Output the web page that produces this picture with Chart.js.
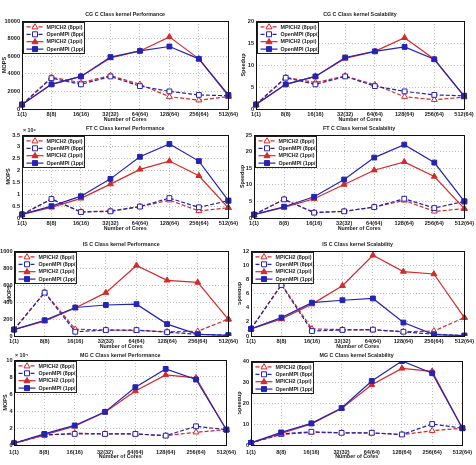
<!DOCTYPE html>
<html>
<head>
<meta charset="utf-8">
<script src="https://cdn.jsdelivr.net/npm/chart.js@4"></script>
<style>
  html, body { margin: 0; padding: 0; background: #fff; }
  #wrap { position: relative; width: 476px; height: 465px; overflow: hidden; }
  #wrap canvas { position: absolute; }
</style>
</head>
<body>
<div id="wrap"></div>
<script>
// NPB class C runs: MPICH2 vs OpenMPI, 8 ppi and 1 ppi
const cores = ["1(1)", "8(8)", "16(16)", "32(32)", "64(64)", "128(64)", "256(64)", "512(64)"];
const seriesNames = ["MPICH2 (8ppi)", "OpenMPI (8ppi)", "MPICH2 (1ppi)", "OpenMPI (1ppi)"];

// CG
const cgPerfMpich8 = [500, 3600, 3000, 3800, 2800, 1400, 1000, 1400];
const cgPerfOmpi8  = [500, 3500, 2800, 3700, 2600, 2000, 1600, 1500];
const cgPerfMpich1 = [500, 2800, 3700, 5800, 6600, 8200, 5700, 1500];
const cgPerfOmpi1  = [500, 2800, 3700, 5900, 6600, 7100, 5700, 1600];
const cgScalMpich8 = [1, 7.2, 6.0, 7.5, 5.5, 2.8, 2.1, 2.7];
const cgScalOmpi8  = [1, 7.1, 5.6, 7.4, 5.2, 4.0, 3.2, 3.0];
const cgScalMpich1 = [1, 5.6, 7.4, 11.5, 13.1, 16.2, 11.3, 2.9];
const cgScalOmpi1  = [1, 5.6, 7.4, 11.7, 13.1, 14.1, 11.3, 3.0];

// FT (perf in x10^6 MOPS)
const ftPerfMpich8 = [0.15, 0.8, 0.26, 0.3, 0.48, 0.75, 0.3, 0.43];
const ftPerfOmpi8  = [0.15, 0.8, 0.25, 0.28, 0.48, 0.84, 0.45, 0.73];
const ftPerfMpich1 = [0.15, 0.45, 0.83, 1.43, 2.05, 2.4, 1.78, 0.43];
const ftPerfOmpi1  = [0.15, 0.5, 0.92, 1.65, 2.58, 3.12, 2.4, 0.73];
const ftScalMpich8 = [1, 5.6, 1.7, 2.0, 3.3, 5.3, 2.0, 2.8];
const ftScalOmpi8  = [1, 5.6, 1.6, 2.0, 3.3, 5.8, 3.0, 5.0];
const ftScalMpich1 = [1, 3.2, 5.8, 10.1, 14.4, 16.9, 12.5, 2.8];
const ftScalOmpi1  = [1, 3.4, 6.4, 11.6, 18.2, 22.1, 16.7, 5.0];

// IS
const isPerfMpich8 = [75, 515, 80, 70, 65, 50, 55, 200];
const isPerfOmpi8  = [75, 510, 50, 70, 70, 45, 20, 10];
const isPerfMpich1 = [75, 175, 330, 510, 830, 655, 630, 195];
const isPerfOmpi1  = [75, 185, 335, 365, 375, 140, 20, 8];
const isScalMpich8 = [1, 7.3, 1.0, 0.9, 0.85, 0.6, 0.7, 2.6];
const isScalOmpi8  = [1, 7.2, 0.7, 0.85, 0.9, 0.6, 0.25, 0.05];
const isScalMpich1 = [1, 2.4, 4.5, 7.1, 11.4, 9.1, 8.75, 2.6];
const isScalOmpi1  = [1, 2.6, 4.7, 5.05, 5.3, 1.9, 0.2, 0.05];

// MG (perf in x10^4 MOPS)
const mgPerfMpich8 = [0.2, 1.15, 1.4, 1.3, 1.3, 1.1, 1.5, 1.8];
const mgPerfOmpi8  = [0.2, 1.2, 1.3, 1.3, 1.3, 1.1, 2.2, 1.8];
const mgPerfMpich1 = [0.2, 1.2, 2.2, 3.85, 6.35, 8.25, 7.9, 1.8];
const mgPerfOmpi1  = [0.2, 1.3, 2.3, 3.9, 6.8, 8.95, 7.7, 1.8];
const mgScalMpich8 = [1, 5, 6, 5.8, 5.7, 5.0, 6.8, 8];
const mgScalOmpi8  = [1, 5.3, 6.3, 5.8, 5.8, 5.0, 10, 8];
const mgScalMpich1 = [1, 5.5, 10, 17.4, 28.7, 36.5, 35.1, 8];
const mgScalOmpi1  = [1, 6, 10.3, 17.6, 30.5, 40, 34.2, 8];

const RED = "#d42a2a", BLUE = "#2424b4";
const FONT = '"Liberation Sans", Arial, sans-serif';
const TXT = "#222";

// line style per series (same order as seriesNames)
const styles = [
  { color: RED,  dash: [4, 2], marker: "triangle", filled: false },
  { color: BLUE, dash: [4, 2], marker: "rect",     filled: false },
  { color: RED,  dash: [],     marker: "triangle", filled: true },
  { color: BLUE, dash: [],     marker: "rect",     filled: true }
];

function drawMarker(ctx, kind, x, y, st) {
  ctx.beginPath();
  if (kind === "rect") ctx.rect(x - 2.5, y - 2.5, 5, 5);
  else { ctx.moveTo(x, y - 3.2); ctx.lineTo(x + 3, y + 2); ctx.lineTo(x - 3, y + 2); ctx.closePath(); }
  ctx.fillStyle = st.filled ? st.color : "#fff";
  ctx.fill();
  ctx.lineWidth = 1; ctx.setLineDash([]); ctx.strokeStyle = st.color;
  ctx.stroke();
}

// titles, box, exponent and legend drawn around chartArea
const decor = {
  id: "decor",
  afterDatasetsDraw(chart) {
    const p = chart.options.plugins.decor;
    const { ctx, chartArea: a } = chart;
    ctx.save();
    ctx.setLineDash([]);
    ctx.strokeStyle = "#111"; ctx.lineWidth = 1;
    ctx.strokeRect(Math.round(a.left) + 0.5, Math.round(a.top) + 0.5, Math.round(a.right - a.left), Math.round(a.bottom - a.top));

    // legend box
    const lx = a.left + 1.5, ly = a.top + 1.5, lw = 61, lh = 31;
    ctx.fillStyle = "#fff"; ctx.fillRect(lx, ly, lw, lh);
    ctx.strokeStyle = "#222"; ctx.strokeRect(lx, ly, lw, lh);
    chart.data.datasets.forEach((ds, i) => {
      const st = styles[i];
      const yy = ly + 4.4 + i * 7.4;
      ctx.strokeStyle = st.color; ctx.lineWidth = 1.2; ctx.setLineDash(st.dash);
      ctx.beginPath(); ctx.moveTo(lx + 3, yy); ctx.lineTo(lx + 20, yy); ctx.stroke();
      drawMarker(ctx, st.marker, lx + 11.5, yy, st);
      ctx.fillStyle = TXT; ctx.font = "bold 5.3px " + FONT;
      ctx.textAlign = "left"; ctx.textBaseline = "middle";
      ctx.fillText(ds.label, lx + 23, yy + 0.3);
    });

    ctx.fillStyle = TXT; ctx.textBaseline = "middle";
    ctx.font = "bold 5.3px " + FONT; ctx.textAlign = "center";
    ctx.fillText(p.title, (a.left + a.right) / 2, a.top - p.titleGap);
    ctx.fillText("Number of Cores", (a.left + a.right) / 2, a.bottom + p.xlabGap);
    if (p.exp) {
      ctx.textAlign = "left"; ctx.font = "bold 5.3px " + FONT;
      ctx.fillText(p.exp, a.left + 1, a.top - 4);
    }
    ctx.translate(p.ylabX, (a.top + a.bottom) / 2);
    ctx.rotate(-Math.PI / 2);
    ctx.textAlign = "center"; ctx.font = "bold 5.5px " + FONT;
    ctx.fillText(p.ylab, 0, 0);
    ctx.restore();
  }
};

function panel(o) {
  const wrap = document.getElementById("wrap");
  const c = document.createElement("canvas");
  c.width = o.box.w; c.height = o.box.h;
  c.style.left = o.box.x + "px"; c.style.top = o.box.y + "px";
  c.style.width = o.box.w + "px"; c.style.height = o.box.h + "px";
  wrap.appendChild(c);
  const yW = o.plot.l - o.box.x;
  const xH = o.box.y + o.box.h - o.plot.b;
  const padTop = o.plot.t - o.box.y;
  const padRight = o.box.x + o.box.w - o.plot.r;
  const tickFont = { family: FONT, size: 5.6, weight: "bold" };
  return new Chart(c, {
    type: "line",
    data: {
      labels: cores,
      datasets: o.series.map((d, i) => ({
        label: seriesNames[i], data: d, order: 3 - i,
        borderColor: styles[i].color, borderWidth: 1.2, borderDash: styles[i].dash,
        pointStyle: styles[i].marker, pointRadius: 3.4, pointBorderWidth: 1,
        pointBorderColor: styles[i].color,
        pointBackgroundColor: styles[i].filled ? styles[i].color : "#fff",
        tension: 0, fill: false
      }))
    },
    options: {
      responsive: false, animation: false, devicePixelRatio: 1,
      layout: { padding: { top: padTop, right: padRight, left: 0, bottom: 0 } },
      plugins: {
        legend: { display: false }, tooltip: { enabled: false },
        decor: { title: o.title, ylab: o.ylab, ylabX: o.ylabX - o.box.x, exp: o.exp,
                 titleGap: o.titleGap || 6, xlabGap: o.xlabGap || 10.5 }
      },
      scales: {
        x: {
          afterFit: s => { s.height = xH; },
          grid: { color: "#b0b0b0", lineWidth: 0.8, drawTicks: false },
          border: { display: false, dash: [1, 2] },
          ticks: { font: tickFont, color: TXT, padding: o.xPad || 2, maxRotation: 0, autoSkip: false }
        },
        y: {
          min: 0, max: o.max,
          afterFit: s => { s.width = yW; },
          grid: { color: "#b0b0b0", lineWidth: 0.8, drawTicks: false },
          border: { display: false, dash: [1, 2] },
          ticks: { stepSize: o.step, font: tickFont, color: TXT, padding: o.yPad || 2,
                   callback: v => String(+Number(v).toFixed(2)) }
        }
      }
    },
    plugins: [decor]
  });
}

const L = { x: 0, w: 240 }, R = { x: 238, w: 238 };

panel({ box: { x: L.x, y: 0, w: L.w, h: 124 }, plot: { l: 22, t: 21, r: 229, b: 109 },
  title: "CG C Class kernel Performance", ylab: "MOPS", ylabX: 4, max: 10000, step: 2000,
  series: [cgPerfMpich8, cgPerfOmpi8, cgPerfMpich1, cgPerfOmpi1] });
panel({ box: { x: R.x, y: 0, w: R.w, h: 124 }, plot: { l: 256, t: 21, r: 464, b: 109 },
  title: "CG C Class kernel Scalability", ylab: "Speedup", ylabX: 243, max: 20, step: 5,
  series: [cgScalMpich8, cgScalOmpi8, cgScalMpich1, cgScalOmpi1] });

panel({ box: { x: L.x, y: 122, w: L.w, h: 112 }, plot: { l: 22, t: 135, r: 236, b: 218 },
  title: "FT C Class kernel Performance", ylab: "MOPS", ylabX: 8, max: 3.5, step: 0.5, exp: "× 10⁶",
  series: [ftPerfMpich8, ftPerfOmpi8, ftPerfMpich1, ftPerfOmpi1] });
panel({ box: { x: R.x, y: 122, w: R.w, h: 112 }, plot: { l: 254, t: 135, r: 469, b: 218 },
  title: "FT C Class kernel Scalability", ylab: "Speedup", ylabX: 242, max: 25, step: 5,
  series: [ftScalMpich8, ftScalOmpi8, ftScalMpich1, ftScalOmpi1] });

panel({ box: { x: L.x, y: 234, w: L.w, h: 116 }, plot: { l: 14, t: 251, r: 236, b: 336 },
  title: "IS C Class kernel Performance", ylab: "MOPS", ylabX: 9, max: 1000, step: 200, yPad: 1.5,
  series: [isPerfMpich8, isPerfOmpi8, isPerfMpich1, isPerfOmpi1] });
panel({ box: { x: R.x, y: 234, w: R.w, h: 116 }, plot: { l: 251, t: 251, r: 470, b: 336 },
  title: "IS C Class kernel Scalability", ylab: "Speedup", ylabX: 239, max: 12, step: 2,
  series: [isScalMpich8, isScalOmpi8, isScalMpich1, isScalOmpi1] });

panel({ box: { x: L.x, y: 348, w: L.w, h: 117 }, plot: { l: 14, t: 360, r: 227, b: 445 },
  title: "MG C Class kernel Performance", ylab: "MOPS", ylabX: 5, max: 10, step: 2, exp: "× 10⁴",
  titleGap: 4, xlabGap: 11.5, xPad: 4, yPad: 1.5,
  series: [mgPerfMpich8, mgPerfOmpi8, mgPerfMpich1, mgPerfOmpi1] });
panel({ box: { x: R.x, y: 348, w: R.w, h: 117 }, plot: { l: 251, t: 361, r: 464, b: 445 },
  title: "MG C Class kernel Scalability", ylab: "Speedup", ylabX: 239, max: 40, step: 10,
  titleGap: 5, xlabGap: 11.5, xPad: 4,
  series: [mgScalMpich8, mgScalOmpi8, mgScalMpich1, mgScalOmpi1] });
</script>
</body>
</html>
